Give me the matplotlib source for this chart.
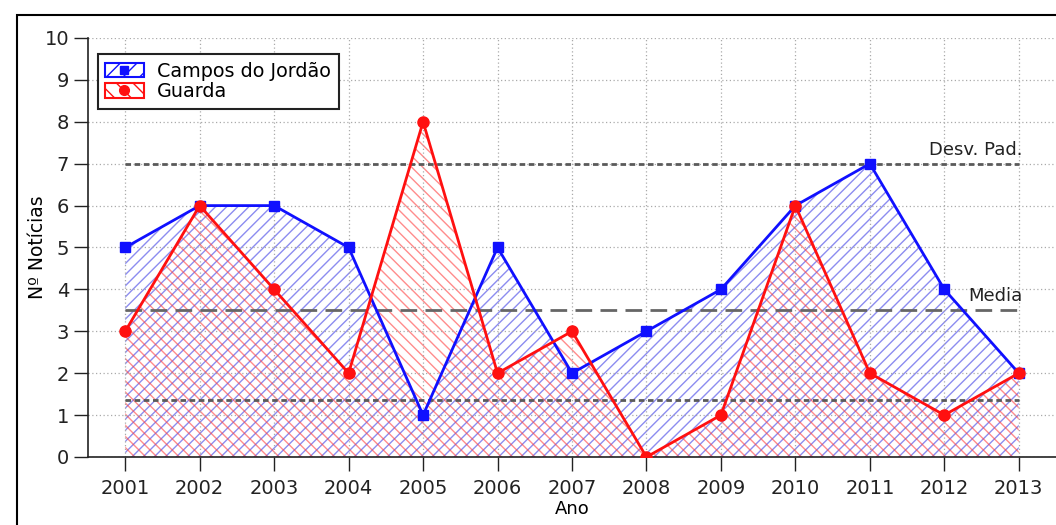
import matplotlib
matplotlib.use("Agg")
import matplotlib.pyplot as plt
from matplotlib.patches import Rectangle, Patch
from matplotlib.lines import Line2D

years = [2001, 2002, 2003, 2004, 2005, 2006, 2007, 2008, 2009, 2010, 2011, 2012, 2013]
campos = [5, 6, 6, 5, 1, 5, 2, 3, 4, 6, 7, 4, 2]
guarda = [3, 6, 4, 2, 8, 2, 3, 0, 1, 6, 2, 1, 2]
media = 3.5
desv_sup = 7.0
desv_inf = 1.35
series_names = ["Campos do Jordão", "Guarda"]

plt.rcParams['font.family'] = ['DejaVu Sans']
plt.rcParams['hatch.linewidth'] = 1.0

fig = plt.figure(figsize=(10.56, 5.25), dpi=100)
ax = fig.add_axes([88/1056, 1-457/525, 1-88/1056, (457-38)/525])

blue = '#1010ff'
red = '#ff1010'

ax.grid(True, linestyle=(0, (1, 2)), color='#aaaaaa', linewidth=0.9, zorder=0)

ax.fill_between(years, 0, campos, facecolor='none', edgecolor=(0.25, 0.25, 0.9, 0.6),
                hatch='///', linewidth=0, zorder=1)
ax.fill_between(years, 0, guarda, facecolor='none', edgecolor=(1.0, 0.25, 0.25, 0.6),
                hatch='\\\\\\', linewidth=0, zorder=1)

ax.set_xlim(2000.5, 2013.5)
x0, x1 = years[0], years[-1]
ax.plot([x0, x1], [media, media], color='#666666', linestyle=(0, (6, 3)), linewidth=2, zorder=2)
ax.plot([x0, x1], [desv_sup, desv_sup], color='#5a5a5a', linestyle=(0, (2, 1.3)), linewidth=2, zorder=2)
ax.plot([x0, x1], [desv_inf, desv_inf], color='#5a5a5a', linestyle=(0, (2, 1.3)), linewidth=2, zorder=2)

ax.plot(years, campos, color=blue, linewidth=2, marker='s', markersize=7, zorder=4)
ax.plot(years, guarda, color=red, linewidth=2, marker='o', markersize=8, zorder=5)

ax.text(2013.05, desv_sup + 0.12, 'Desv. Pad.', ha='right', va='bottom', fontsize=13, color='#222222')
ax.text(2013.05, media + 0.12, 'Media', ha='right', va='bottom', fontsize=13, color='#222222')

ax.set_ylim(0, 10)
ax.set_xticks(years)
ax.set_yticks(range(0, 11))
ax.tick_params(axis='both', direction='out', length=10, width=1, labelsize=14, colors='#222222')
ax.tick_params(axis='x', pad=6)
ax.set_xlabel('Ano', fontsize=13, labelpad=1)
ax.set_ylabel('Nº Notícias', fontsize=13.5, labelpad=-2)
for s in ['top', 'right']:
    ax.spines[s].set_visible(False)
for s in ['left', 'bottom']:
    ax.spines[s].set_linewidth(1.2)
    ax.spines[s].set_color('#222222')

h1 = (Patch(facecolor='none', edgecolor=blue, hatch='//', linewidth=1.5),
      Line2D([], [], color=blue, marker='s', markersize=6, linewidth=0))
h2 = (Patch(facecolor='none', edgecolor=red, hatch='\\\\', linewidth=1.5),
      Line2D([], [], color=red, marker='o', markersize=7, linewidth=0))
leg = ax.legend([h1, h2], series_names, loc='upper left', bbox_to_anchor=(0.0, 0.985),
                fontsize=13.8, fancybox=False, framealpha=1, edgecolor='#222222',
                handlelength=2.0, handleheight=0.8, handletextpad=0.7, borderpad=0.4,
                labelspacing=0.1)
leg.get_frame().set_linewidth(1.5)

fig.patches.append(Rectangle((17/1056, -0.1), 1.2, 1.1 - 15/525,
                             transform=fig.transFigure, fill=False,
                             edgecolor='black', linewidth=1.5))

fig.savefig('out.png', dpi=100)
